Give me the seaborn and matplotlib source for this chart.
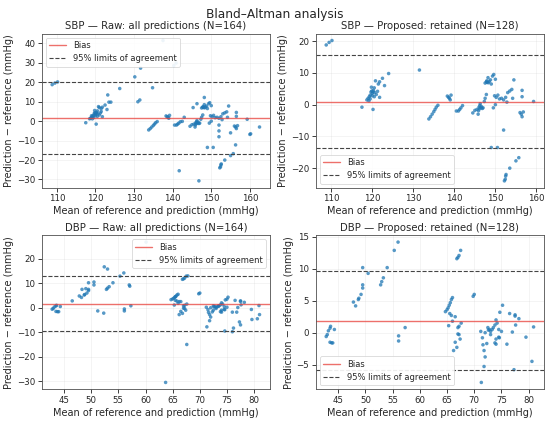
import numpy as np
import pandas as pd
import matplotlib
matplotlib.use("Agg")
import matplotlib.pyplot as plt
from matplotlib.ticker import MultipleLocator
import seaborn as sns

sns.set_theme(style="ticks")
plt.rcParams["font.family"] = ["DejaVu Sans"]

# SBP points kept by the proposed filter (mean, difference)
sbp_keep_mean = [108.8, 109.5, 110.2, 117.5,
                 118.7, 119.0, 119.3, 119.5, 119.7, 119.8, 120.0, 120.2, 120.3, 120.5, 120.5, 120.8,
                 120.2, 121.0, 121.3, 121.5, 121.8, 121.8, 122.5, 123.0, 124.0, 119.5, 120.0, 119.2,
                 120.6, 119.9, 131.5,
                 133.8, 134.2, 134.6, 135.0, 135.3, 135.6, 136.0,
                 138.3, 138.6, 138.8, 139.0, 139.2,
                 140.5, 141.0, 141.3, 141.6, 142.0,
                 144.5, 145.0, 145.5, 145.8, 146.0, 146.2, 146.3, 146.5, 146.8, 147.0, 147.3, 147.5, 147.8,
                 146.1, 146.6, 145.9,
                 147.5, 147.8, 148.0, 148.2, 148.5, 148.8, 149.0, 149.3, 149.6, 150.0, 148.3, 147.9,
                 149.5, 149.8, 150.2, 150.6, 151.0, 150.0, 149.0, 150.5,
                 152.0, 152.0, 152.5, 152.8, 153.0, 153.5, 154.0, 154.5, 154.2, 151.5,
                 152.2, 152.4, 152.5, 152.6, 153.5, 155.0, 155.7,
                 156.0, 156.3, 156.5, 156.8, 156.5, 156.5, 159.3]
sbp_keep_diff = [18.8, 19.6, 20.2, -0.8,
                 1.5, 2.0, 2.5, 3.0, 4.0, 5.5, 3.5, 4.0, 4.5, 2.5, 5.3, 7.5,
                 -1.5, 3.2, 4.2, 6.5, 7.2, 2.3, 8.3, 6.0, 9.8, 1.8, 2.8, 1.2,
                 3.8, 4.3, 10.9,
                 -4.5, -3.8, -3.0, -2.2, -1.5, -0.8, -0.2,
                 2.7, 2.3, 2.0, 1.5, 3.0,
                 -2.0, -2.0, -1.5, -1.0, -0.3,
                 -2.6, -1.8, -1.5, -3.0, -0.8, -0.3, 0.3, -1.0, -1.2, -1.0, 1.0, 2.0, 3.2,
                 -1.3, -0.6, -1.9,
                 6.8, 7.2, 7.0, 8.5, 7.3, 7.8, 6.5, 9.0, 9.5, 8.0, 6.9, 7.5,
                 -1.0, 2.8, 2.3, 3.0, 1.8, 0.0, -13.5, -13.5,
                 -8.0, 1.5, 2.3, 0.8, 3.8, 4.3, 4.8, 7.8, 2.0, 2.0,
                 -24.0, -23.5, -22.5, -22.0, -20.0, -17.7, -16.7,
                 -2.5, -3.0, -3.8, -2.3, 4.5, 2.5, 1.0]

# SBP points only in the raw set
sbp_drop_mean = [137.5, 140.3, 140.9, 131.7, 130.2, 134.8, 126.3, 123.2, 123.5, 131.0,
                 141.7, 146.8, 148.2, 145.3, 146.3, 160.0, 160.2, 162.5, 155.0, 152.0,
                 152.0, 156.3, 143.0, 142.5, 121.0, 121.5, 119.0, 118.5]
sbp_drop_diff = [41.5, 28.6, 29.9, 27.3, 22.8, 17.2, 16.8, 13.5, 9.8, 10.0,
                 -25.5, -30.7, 12.2, 7.0, 9.0, -6.8, -6.5, -3.0, -6.0, -5.0,
                 -2.0, -12.2, 2.0, -0.1, 7.0, 5.0, 2.8, 1.2]

# DBP points kept by the proposed filter
dbp_keep_mean = [42.8, 43.0, 43.2, 43.5, 43.6, 43.5, 43.8, 44.0, 44.3,
                 47.8, 48.2, 48.7, 48.8, 49.2, 49.5, 49.5, 49.5, 50.5, 52.8, 53.0, 53.3, 54.0,
                 55.3, 56.0, 56.1, 56.1, 57.3,
                 64.7, 65.0, 65.2, 65.4, 65.6, 65.8, 66.0, 65.5, 65.8, 66.0, 65.3, 66.2, 66.5,
                 66.8, 66.5, 67.0, 67.2, 67.4, 67.2, 67.6, 66.8, 67.0, 67.2, 67.5, 67.0,
                 69.8, 70.0,
                 71.2, 71.3, 71.5, 71.6, 71.8, 72.0, 71.8, 72.0, 72.3, 72.5, 72.6, 72.8, 73.0, 73.0,
                 73.3, 73.5, 73.8, 74.0, 74.2, 74.7, 75.2, 73.8, 74.0, 74.0, 74.6, 74.5, 75.0,
                 76.0, 76.5, 77.0, 77.3, 77.5, 77.6, 77.5, 78.2, 79.5, 80.6, 80.9, 74.5]
dbp_keep_diff = [-0.6, -0.3, 0.3, 0.7, 1.0, -1.5, -1.6, -1.6, 0.5,
                 4.8, 4.2, 5.2, 5.4, 6.0, 7.0, 7.5, 10.2, 9.3, 7.5, 8.0, 8.6, 10.2,
                 12.9, 14.2, -0.5, -1.3, 0.8,
                 3.3, 3.6, 3.9, 4.3, 4.7, 5.2, 5.5, 3.0, 2.7, 1.8, 1.1, -2.8, -1.5,
                 -2.3, 2.5, -0.2, -0.3, -1.0, 1.0, 1.5, 11.6, 11.8, 12.1, 12.9, 0.8,
                 5.7, 6.0,
                 0.2, -7.8, -0.8, -1.9, -2.8, -3.8, -5.3, 0.0, -1.7, 0.8, 0.4, 0.5, -0.3, 0.2,
                 0.5, 0.8, 1.2, 2.0, 1.5, 3.2, 4.3, -1.6, -1.8, -1.0, -0.8, 0.5, 0.2,
                 -1.8, 3.0, 0.1, -5.8, 2.8, 1.2, 2.6, 2.2, -0.7, -4.5, 0.9, -0.7]

# DBP points only in the raw set
dbp_drop_mean = [60.1, 63.7, 67.6, 52.4, 53.0, 51.2, 52.3, 46.5, 48.3, 49.0,
                 50.5, 57.0, 57.1, 74.6, 76.0, 76.2, 77.5, 79.6, 81.0, 76.8,
                 72.5, 75.0, 73.5, 67.8, 65.5, 66.2]
dbp_drop_diff = [26.8, -30.5, -15.0, 16.7, 15.8, -1.3, -2.2, 2.8, 7.5, 7.8,
                 10.5, 9.3, 8.8, -9.5, -9.8, -8.3, -7.0, -4.8, -2.8, -1.8,
                 -1.0, 3.5, 0.7, 13.0, 4.5, 2.5]

# bias and 95% limits: raw SBP, kept SBP, raw DBP, kept DBP
bias = [1.7, 0.9, 1.7, 1.9]
loa_upper = [20.4, 15.5, 12.9, 9.7]
loa_lower = [-17.0, -13.6, -9.6, -5.9]

titles = ["SBP — Raw: all predictions (N=164)",
          "SBP — Proposed: retained (N=128)",
          "DBP — Raw: all predictions (N=164)",
          "DBP — Proposed: retained (N=128)"]
legend_locs = ["upper left", "lower left", "upper right", "lower left"]


def make_frame(means, diffs):
    return pd.DataFrame({"mean": means, "diff": diffs})


frames = [
    make_frame(sbp_keep_mean + sbp_drop_mean, sbp_keep_diff + sbp_drop_diff),
    make_frame(sbp_keep_mean, sbp_keep_diff),
    make_frame(dbp_keep_mean + dbp_drop_mean, dbp_keep_diff + dbp_drop_diff),
    make_frame(dbp_keep_mean, dbp_keep_diff),
]

fig, axes = plt.subplots(2, 2, figsize=(11, 8.44), dpi=50)
axes = axes.ravel()

for i, ax in enumerate(axes):
    sns.scatterplot(data=frames[i], x="mean", y="diff", ax=ax, s=26,
                    color="#1f77b4", alpha=0.75, edgecolor="none")
    ax.axhline(bias[i], color="#e8403a", alpha=0.75, lw=2, label="Bias")
    ax.axhline(loa_upper[i], color="#444444", ls="--", lw=1.6,
               label="95% limits of agreement")
    ax.axhline(loa_lower[i], color="#444444", ls="--", lw=1.6)
    ax.set_title(titles[i], fontsize=14.5)
    ax.set_xlabel("Mean of reference and prediction (mmHg)", fontsize=14)
    ax.set_ylabel("Prediction − reference (mmHg)", fontsize=14)
    ax.tick_params(labelsize=12.5)
    if i >= 2:
        ax.xaxis.set_major_locator(MultipleLocator(5))
    ax.grid(True, alpha=0.3)
    for sp in ax.spines.values():
        sp.set_color("#555555")
    ax.legend(loc=legend_locs[i], fontsize=12, framealpha=0.9)

fig.suptitle("Bland–Altman analysis", fontsize=17.5)
fig.tight_layout(pad=0.5, h_pad=0.8, w_pad=1.0)
fig.savefig("out.png", dpi=50)
